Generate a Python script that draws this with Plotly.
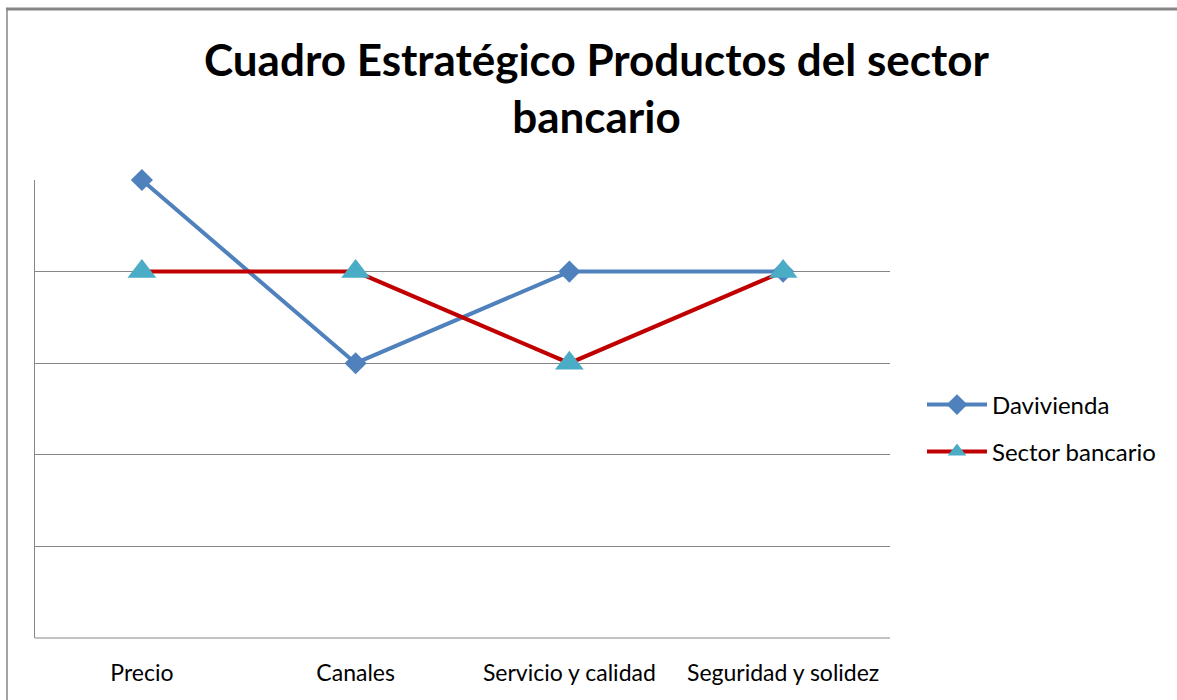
import plotly.graph_objects as go

categories = ["Precio", "Canales", "Servicio y calidad", "Seguridad y solidez"]
davivienda = [5, 3, 4, 4]
sector_bancario = [4, 4, 3, 4]
title_text = "Cuadro Estratégico Productos del sector<br>bancario"

W, H = 1177, 700
L, R, T, B = 35, 890, 180, 638
px_x = lambda v: (v - L) / (R - L)
px_y = lambda v: (B - v) / (B - T)

fig = go.Figure()
fig.add_trace(go.Scatter(
    x=categories, y=davivienda, name="Davivienda", mode="lines+markers",
    line=dict(color="#4F81BD", width=4),
    marker=dict(symbol="diamond", size=17, color="#4F81BD"),
    cliponaxis=False, legend="legend",
))
fig.add_trace(go.Scatter(
    x=categories, y=sector_bancario, name="Sector bancario", mode="lines+markers",
    line=dict(color="#C00000", width=4),
    marker=dict(symbol="triangle-up", size=25, color="#4BACC6"),
    cliponaxis=False, legend="legend2",
))

leg_common = dict(xanchor="left", yanchor="middle", font=dict(size=24),
                  itemsizing="trace", itemwidth=60, bgcolor="rgba(0,0,0,0)")
fig.update_layout(
    width=W, height=H,
    margin=dict(l=L, r=W - R, t=T, b=H - B),
    paper_bgcolor="white", plot_bgcolor="white",
    font=dict(family="Lato, sans-serif", size=20, color="#000000"),
    showlegend=True,
    legend=dict(x=px_x(922), y=px_y(405), **leg_common),
    legend2=dict(x=px_x(922), y=px_y(452), **leg_common),
    xaxis=dict(type="category", range=[-0.5, 3.5], showgrid=False,
               showline=False, zeroline=False, ticks="", ticklabelstandoff=19,
               tickfont=dict(size=23, color="#000000")),
    yaxis=dict(range=[0, 5], dtick=1, showgrid=True, gridcolor="#868686", gridwidth=1,
               showline=True, linecolor="#868686", linewidth=1, zeroline=False,
               showticklabels=False, ticks=""),
)
fig.add_annotation(text=title_text, xref="paper", yref="paper",
                   x=px_x(596), y=px_y(88), xanchor="center", yanchor="middle",
                   showarrow=False, align="center",
                   font=dict(family="Lato, sans-serif", size=44, color="#000000", weight="bold"))
# bottom axis line
fig.add_shape(type="line", xref="paper", yref="paper", x0=0, x1=1, y0=0, y1=0,
              line=dict(color="#868686", width=1))
# outer chart border (top and left)
fig.add_shape(type="line", xref="paper", yref="paper", x0=px_x(6), x1=px_x(1180),
              y0=px_y(9), y1=px_y(9), line=dict(color="#868686", width=3))
fig.add_shape(type="line", xref="paper", yref="paper", x0=px_x(7), x1=px_x(7),
              y0=px_y(9), y1=px_y(705), line=dict(color="#868686", width=1.5))

fig.write_html("out.html")
